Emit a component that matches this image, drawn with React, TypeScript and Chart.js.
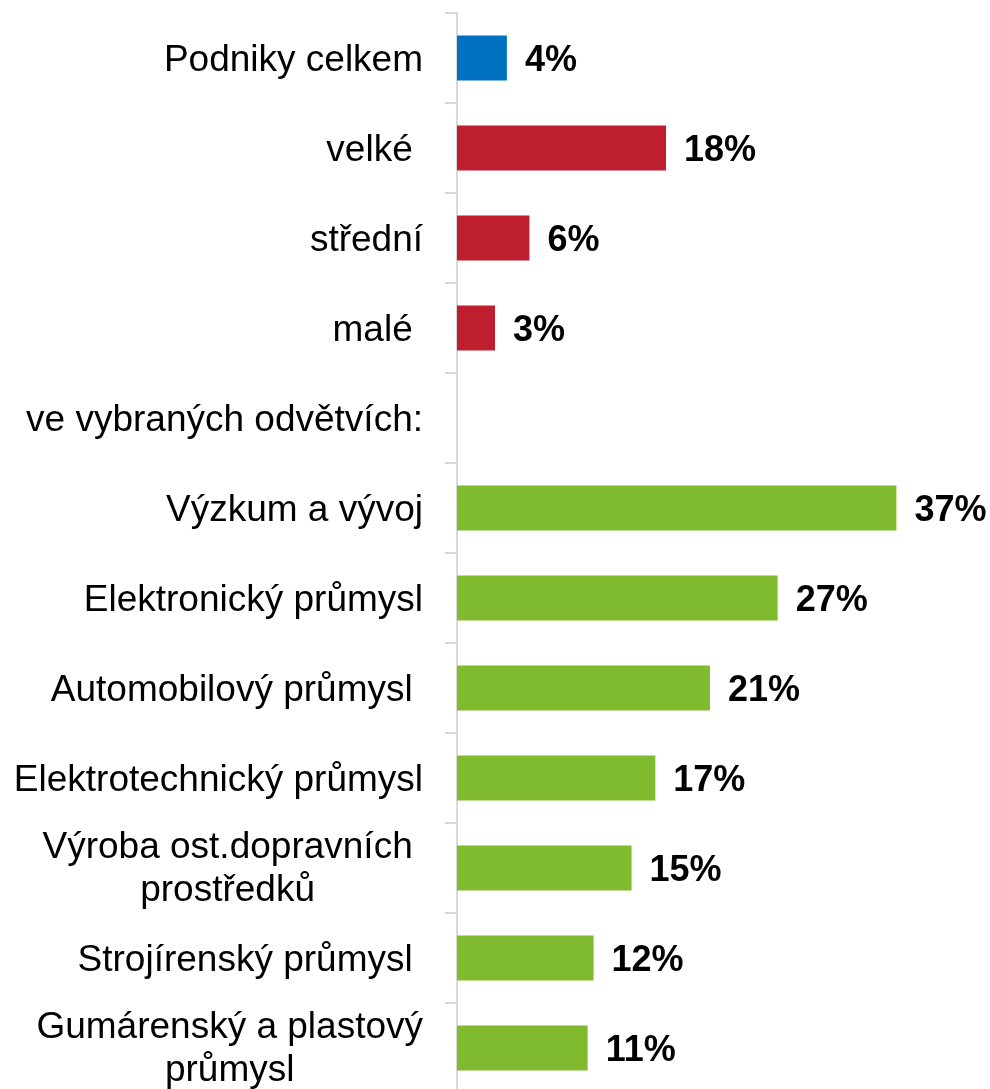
import React, { useEffect, useRef } from "react";
import { Chart, registerables } from "chart.js";

Chart.register(...registerables);

const categories: string[][] = [
  ["Podniky celkem"],
  ["velké "],
  ["střední"],
  ["malé "],
  ["ve vybraných odvětvích:"],
  ["Výzkum a vývoj"],
  ["Elektronický průmysl"],
  ["Automobilový průmysl "],
  ["Elektrotechnický průmysl"],
  ["Výroba ost.dopravních ", "prostředků "],
  ["Strojírenský průmysl "],
  ["Gumárenský a plastový", "průmysl"],
];

const values: (number | null)[] = [4.2, 17.6, 6.1, 3.2, null, 37.0, 27.0, 21.3, 16.7, 14.7, 11.5, 11.0];

const groups: string[] = ["total", "size", "size", "size", "none", "sector", "sector", "sector", "sector", "sector", "sector", "sector"];

const groupColors: Record<string, string> = {
  total: "#0070C0",
  size: "#BE1E2D",
  sector: "#7FBA2F",
  none: "rgba(0,0,0,0)",
};

const FONT = '"Liberation Sans", Arial, sans-serif';

const labelPlugin = {
  id: "customLabels",
  afterDraw(chart: any) {
    const ctx = chart.ctx;
    const yScale = chart.scales.y;
    const meta = chart.getDatasetMeta(0);
    const area = chart.chartArea;
    ctx.save();
    // category labels
    ctx.font = `37px ${FONT}`;
    ctx.fillStyle = "#000000";
    ctx.textBaseline = "alphabetic";
    ctx.textAlign = "center";
    const right = area.left - 34;
    const lineH = 43;
    categories.forEach((lines, i) => {
      const cy = yScale.getPixelForValue(i);
      const maxW = Math.max(...lines.map((l) => ctx.measureText(l).width));
      const cx = right - maxW / 2;
      const n = lines.length;
      const shift = n > 1 ? -2 : 0;
      lines.forEach((line, j) => {
        const by = cy + 13 + shift + (j - (n - 1) / 2) * lineH;
        ctx.fillText(line, cx, by);
      });
    });
    // value labels
    ctx.font = `bold 36px ${FONT}`;
    ctx.textAlign = "left";
    values.forEach((v, i) => {
      if (v === null) return;
      const el = meta.data[i];
      if (!el) return;
      ctx.fillText(`${Math.round(v)}%`, el.x + 18, el.y + 13);
    });
    ctx.restore();
  },
};

export default function App() {
  const ref = useRef<HTMLCanvasElement | null>(null);
  useEffect(() => {
    if (!ref.current) return;
    const chart = new Chart(ref.current, {
      type: "bar",
      data: {
        labels: categories.map((c) => c.join(" ")),
        datasets: [
          {
            data: values as any,
            backgroundColor: groups.map((g) => groupColors[g]),
            borderWidth: 0,
            barPercentage: 0.5,
            categoryPercentage: 1,
          },
        ],
      },
      options: {
        indexAxis: "y",
        responsive: false,
        animation: false,
        layout: { padding: { left: 445, right: 58, top: 13, bottom: 8 } },
        plugins: { legend: { display: false }, tooltip: { enabled: false } },
        scales: {
          x: { display: false, min: 0, max: 40 },
          y: {
            offset: true,
            grid: {
              offset: true,
              drawOnChartArea: false,
              drawTicks: true,
              tickLength: 12,
              color: "#D9D9D9",
              lineWidth: 2,
            },
            border: { display: true, color: "#D9D9D9", width: 2 },
            ticks: { display: false },
            afterFit: (scale: any) => {
              scale.width = 12;
            },
          } as any,
        },
      },
      plugins: [labelPlugin],
    });
    return () => chart.destroy();
  }, []);
  return (
    <div style={{ position: "absolute", left: 0, top: 0, width: 990, height: 1089, overflow: "hidden", background: "#fff" }}>
      <canvas ref={ref} width={990} height={1101} />
    </div>
  );
}
